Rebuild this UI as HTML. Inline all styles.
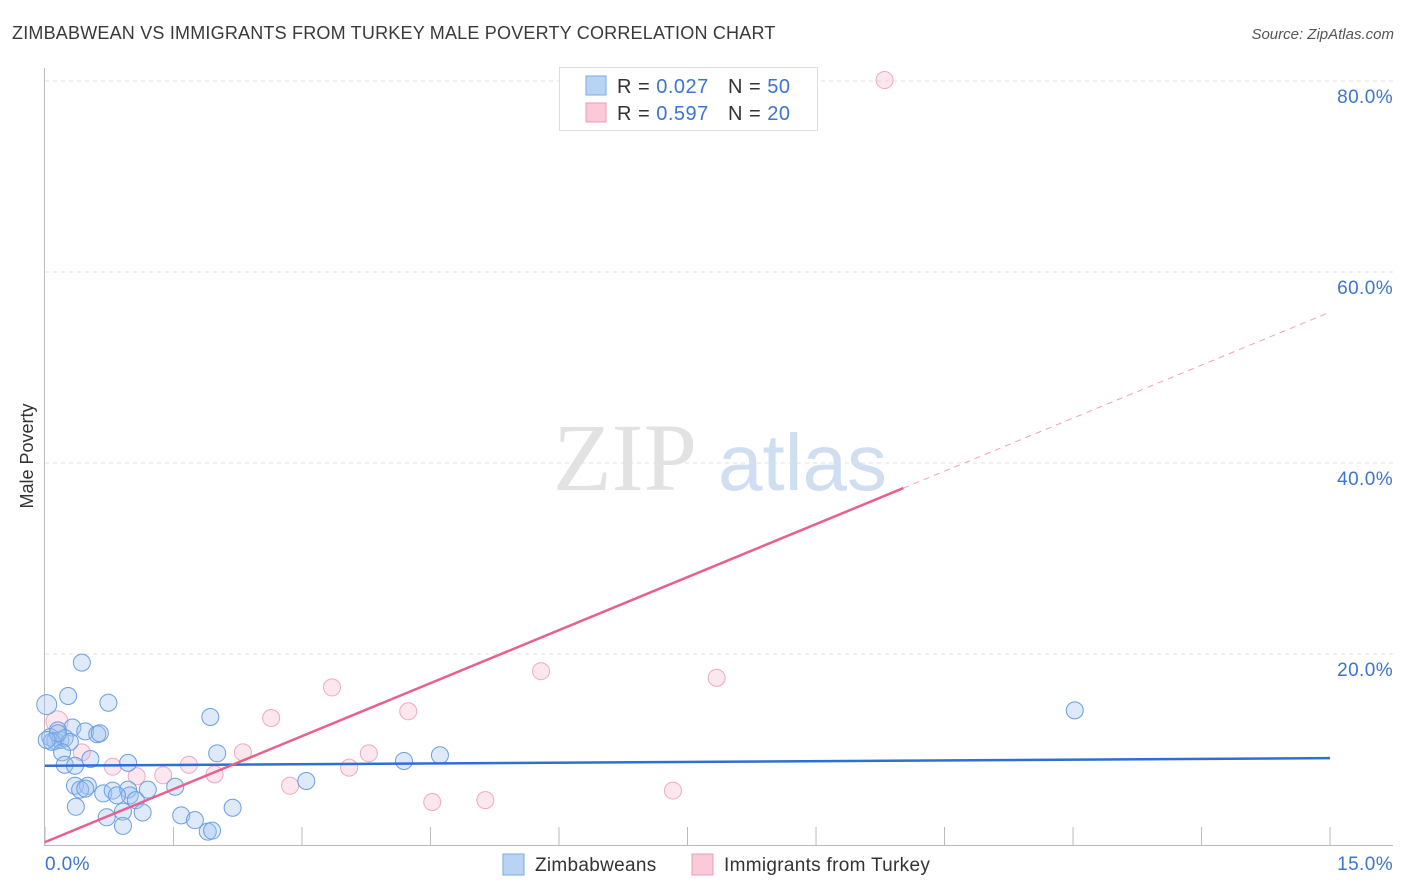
<!DOCTYPE html>
<html><head><meta charset="utf-8"><style>
body{margin:0;background:#fff;font-family:"Liberation Sans",sans-serif;}
svg{display:block}
</style></head><body>
<svg id="chart" width="1406" height="892">
<text x="12" y="39" font-size="18" fill="#3a3a3a" letter-spacing="0.2">ZIMBABWEAN VS IMMIGRANTS FROM TURKEY MALE POVERTY CORRELATION CHART</text>
<text x="1394" y="39" font-size="15" fill="#555" font-style="italic" text-anchor="end">Source: ZipAtlas.com</text>
<text x="33" y="456" font-size="18" fill="#333" transform="rotate(-90 33 456)" text-anchor="middle">Male Poverty</text>
<text x="553" y="490" font-size="96" fill="#e2e2e2" font-family="Liberation Serif,serif">ZIP</text>
<text x="718" y="490" font-size="80" fill="#d0def2">atlas</text>
<g id="grid"></g><g id="axes"></g><g id="pts"></g><g id="trend"></g>
<g>
<rect x="559.500" y="67.500" width="258" height="63" fill="#fff" stroke="#ddd"/>
<rect x="586" y="76" width="20" height="19" fill="#b9d3f5" stroke="#7aa8e6"/>
<rect x="586" y="103" width="20" height="19" fill="#fcc9d8" stroke="#f09ab4"/>
<text x="617" y="93" font-size="20" fill="#333" letter-spacing="0.5">R = <tspan fill="#3b74d1">0.027</tspan><tspan x="728">N = </tspan><tspan fill="#3b74d1">50</tspan></text>
<text x="617" y="120" font-size="20" fill="#333" letter-spacing="0.5">R = <tspan fill="#3b74d1">0.597</tspan><tspan x="728">N = </tspan><tspan fill="#3b74d1">20</tspan></text>
</g>
<g>
<rect x="503" y="854" width="21" height="21" fill="#b9d3f5" stroke="#7aa8e6"/>
<text x="535" y="871" font-size="19" fill="#333" letter-spacing="0.3">Zimbabweans</text>
<rect x="692" y="854" width="21" height="21" fill="#fcc9d8" stroke="#f09ab4"/>
<text x="724" y="871" font-size="19" fill="#333" letter-spacing="0.3">Immigrants from Turkey</text>
</g>
</svg>
<script>
const blueX=[0.02,0.43,0.27,0.74,1.93,0.32,0.47,0.61,0.15,0.06,0.12,0.18,0.23,0.08,0.29,0.20,0.23,0.35,0.53,0.97,2.01,4.19,4.61,12.02,0.35,0.50,0.41,0.68,0.79,0.97,0.99,1.20,1.52,3.05,0.36,0.72,0.91,1.06,1.14,1.59,1.75,2.19,0.91,1.90,1.95,0.47,0.84,0.15,0.02,0.64];
const blueY=[14.7,19.1,15.6,14.9,13.4,12.3,11.9,11.6,12.0,11.3,10.9,11.0,11.2,10.8,10.8,9.7,8.4,8.3,9.0,8.6,9.6,8.8,9.4,14.1,6.2,6.2,5.8,5.4,5.7,5.8,5.2,5.8,6.1,6.7,4.0,2.9,3.5,4.7,3.4,3.1,2.6,3.9,2.0,1.4,1.5,5.9,5.2,11.7,11.0,11.7];
const pinkX=[9.80,5.79,7.84,3.35,4.24,2.64,0.14,2.31,3.78,0.43,0.79,1.07,1.38,1.68,1.98,3.55,2.86,4.52,5.14,7.33];
const pinkY=[80.1,18.2,17.5,16.5,14.0,13.3,12.9,9.7,9.6,9.7,8.2,7.2,7.3,8.4,7.4,8.1,6.2,4.5,4.7,5.7];
const blueTrend=[8.3,9.1];
const pinkTrend=[0.3,55.8];
const pinkSolidEnd=10.02;
const yTicks=[20,40,60,80];
const xTickVals=[0,1.5,3,4.5,6,7.5,9,10.5,12,13.5,15];
const xLabels=["0.0%","15.0%"];
const NS="http://www.w3.org/2000/svg";
const sx=v=>45+v*85.67, sy=v=>845-v*9.55;
function mk(tag,attrs,parent){const e=document.createElementNS(NS,tag);for(const k in attrs)e.setAttribute(k,attrs[k]);document.getElementById(parent).appendChild(e);return e;}
yTicks.forEach(t=>{
  const l=mk('line',{x1:45,x2:1393,y1:sy(t),y2:sy(t),stroke:'#e0e0e0','stroke-dasharray':'4,4'},'grid');
  
  
  const tx=mk('text',{x:1393,y:sy(t)+22,'font-size':19,fill:'#3b74d1','text-anchor':'end','letter-spacing':0.4},'grid');
  tx.textContent=t.toFixed(1)+'%';
  
  
});
const ya=mk('line',{x1:44.5,x2:44.5,y1:68,y2:845,stroke:'#bbb'},'axes');


const xa=mk('line',{x1:44,x2:1393,y1:845.5,y2:845.5,stroke:'#bbb'},'axes');


xTickVals.forEach(v=>{
  const t=mk('line',{x1:sx(v),x2:sx(v),y1:827,y2:845,stroke:'#bbb'},'axes');
  
  
});
const xl0=mk('text',{x:45,y:870,'font-size':19,fill:'#3b74d1','letter-spacing':0.4},'axes');xl0.textContent=xLabels[0];


const xl1=mk('text',{x:1393,y:870,'font-size':19,fill:'#3b74d1','text-anchor':'end','letter-spacing':0.4},'axes');xl1.textContent=xLabels[1];


pinkX.forEach((x,i)=>{
  const c=mk('circle',{cx:sx(x),cy:sy(pinkY[i]),r:i==6?11:8.5,fill:'rgba(248,185,205,0.35)',stroke:'#f2a8bf','stroke-width':1},'pts');
  
  
});
blueX.forEach((x,i)=>{
  const c=mk('circle',{cx:sx(x),cy:sy(blueY[i]),r:i==0?10:8.5,fill:'rgba(160,195,240,0.35)',stroke:'#6a9fe2','stroke-width':1},'pts');
  
  
});
const bt=mk('line',{x1:sx(0),y1:sy(blueTrend[0]),x2:sx(15),y2:sy(blueTrend[1]),stroke:'#2e6fd4','stroke-width':2.5},'trend');


const pm=v=>pinkTrend[0]+(pinkTrend[1]-pinkTrend[0])*v/15;
const pt=mk('line',{x1:sx(0),y1:sy(pinkTrend[0]),x2:sx(pinkSolidEnd),y2:sy(pm(pinkSolidEnd)),stroke:'#e8608e','stroke-width':2.5},'trend');


const pd=mk('line',{x1:sx(pinkSolidEnd),y1:sy(pm(pinkSolidEnd)),x2:sx(15),y2:sy(pinkTrend[1]),stroke:'#f0a0b8','stroke-width':1,'stroke-dasharray':'6,5'},'trend');


</script>
</body></html>
